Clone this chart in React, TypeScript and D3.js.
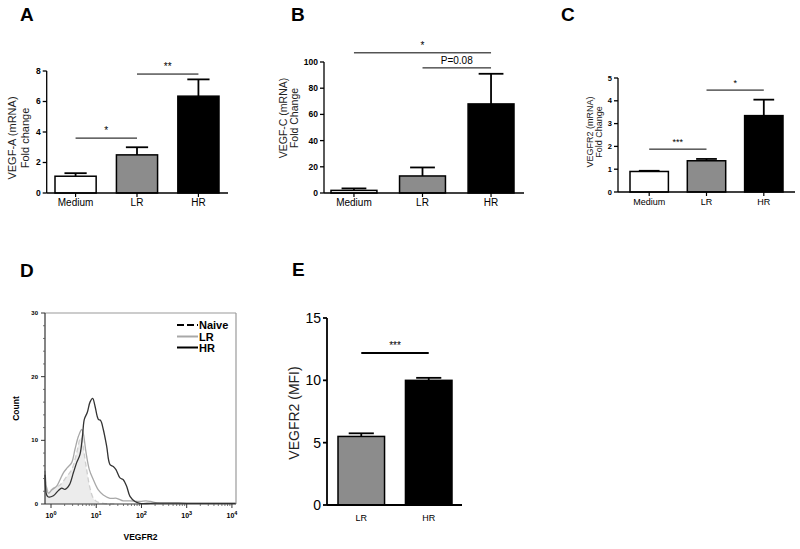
import React from 'react';
import * as d3 from 'd3';

const FONT = '"Liberation Sans", Arial, sans-serif';

// ---- bar panel data ----
const groups3 = ['Medium', 'LR', 'HR'];
const groups2 = ['LR', 'HR'];
const barFills3 = ['#ffffff', '#8c8c8c', '#000000'];
const barFills2 = ['#8c8c8c', '#000000'];

const vegfA = [1.1, 2.5, 6.35];
const vegfAErr = [1.3, 3.0, 7.45];
const vegfC = [2, 13, 68];
const vegfCErr = [3.5, 19.5, 91];
const vegfr2 = [0.9, 1.37, 3.35];
const vegfr2Err = [0.93, 1.45, 4.05];
const mfi = [5.5, 10.0];
const mfiErr = [5.75, 10.2];

const sigA = [
  { a: 'Medium', b: 'LR', y: 3.6, label: '*' },
  { a: 'LR', b: 'HR', y: 7.8, label: '**' },
];
const sigB = [
  { a: 'Medium', b: 'HR', y: 107, label: '*' },
  { a: 'LR', b: 'HR', y: 95.5, label: 'P=0.08' },
];
const sigC = [
  { a: 'Medium', b: 'LR', y: 1.88, label: '***' },
  { a: 'LR', b: 'HR', y: 4.47, label: '*' },
];
const sigE = [{ a: 'LR', b: 'HR', y: 12.2, label: '***' }];

// ---- flow histogram data (log10 intensity, count) ----
const hrLog = [-0.133, -0.096, -0.059, 0.052, 0.162, 0.236, 0.309, 0.405, 0.494, 0.567, 0.641, 0.7, 0.736, 0.803, 0.862, 0.921, 0.972, 1.046, 1.098, 1.156, 1.23, 1.304, 1.377, 1.436, 1.525, 1.598, 1.672, 1.746, 1.856, 1.967, 2.2, 2.6, 3.0, 3.5, 4.09];
const hrCount = [4.6, 1.4, 1.1, 1.3, 2.1, 2.5, 2.3, 3.0, 4.9, 6.5, 7.8, 11.0, 13.3, 14.4, 16.0, 16.6, 15.4, 13.3, 13.1, 11.7, 9.1, 6.2, 5.9, 5.4, 4.1, 3.8, 2.8, 1.2, 0.4, 0.1, 0.1, 0.15, 0.1, 0.1, 0.1];
const lrLog = [-0.133, -0.059, 0.015, 0.125, 0.199, 0.273, 0.361, 0.457, 0.53, 0.604, 0.678, 0.715, 0.774, 0.847, 0.936, 1.046, 1.156, 1.304, 1.451, 1.598, 1.746, 1.967, 2.1, 2.2, 2.35, 2.6, 3.0, 3.5, 4.09];
const lrCount = [5.2, 1.7, 2.2, 2.8, 3.8, 4.9, 5.7, 6.5, 8.6, 10.6, 11.7, 11.0, 8.1, 5.4, 3.8, 2.2, 1.4, 0.9, 0.9, 0.5, 0.5, 0.4, 0.5, 0.4, 0.15, 0.1, 0.1, 0.1, 0.1];
const naiveLog = [-0.133, -0.059, 0.052, 0.199, 0.346, 0.457, 0.567, 0.641, 0.678, 0.715, 0.788, 0.862, 0.936, 1.009, 1.156, 1.4];
const naiveCount = [4.0, 2.0, 2.5, 3.0, 4.3, 5.4, 8.0, 10.2, 10.4, 8.8, 5.4, 2.5, 0.9, 0.4, 0.1, 0];
const countTicks = [0, 10, 20, 30];
const decades = [0, 1, 2, 3, 4];

type Sig = { a: string; b: string; y: number; label: string };

type BarProps = {
  cats: string[];
  values: number[];
  errs: number[];
  fills: string[];
  yMax: number;
  yStep: number;
  axisX: number;
  axisEnd: number;
  y0: number;
  yTop: number;
  barsLeft: number;
  barsRight: number;
  pad: number;
  title: string[];
  titleX: number[];
  titleY: number;
  titleSize: number;
  tickSize: number;
  tickBold: boolean;
  xLabelSize: number;
  xLabelY: number;
  xTicks: boolean;
  sigs: Sig[];
  sigSize: number;
  sigWidth: number;
  axisWidth: number;
  letter: string;
  letterX: number;
  letterY: number;
};

function BarPanel(p: BarProps) {
  const x = d3.scaleBand().domain(p.cats).range([p.barsLeft, p.barsRight]).paddingInner(p.pad).paddingOuter(0);
  const y = d3.scaleLinear().domain([0, p.yMax]).range([p.y0, p.yTop]);
  const ticks = d3.range(0, p.yMax + 1e-9, p.yStep);
  const bw = x.bandwidth();
  const cx = (c: string) => (x(c) as number) + bw / 2;
  return (
    <g fontFamily={FONT}>
      <text x={p.letterX} y={p.letterY} fontSize={19} fontWeight="bold">{p.letter}</text>
      {/* error bars */}
      {p.cats.map((c, i) => (
        <g key={'e' + c} stroke="#000" strokeWidth={1.8}>
          <line x1={cx(c)} x2={cx(c)} y1={y(p.values[i])} y2={y(p.errs[i])} />
          <line x1={cx(c) - bw * 0.27} x2={cx(c) + bw * 0.27} y1={y(p.errs[i])} y2={y(p.errs[i])} />
        </g>
      ))}
      {p.cats.map((c, i) => (
        <rect key={'b' + c} x={x(c)} y={y(p.values[i])} width={bw} height={p.y0 - y(p.values[i])}
          fill={p.fills[i]} stroke="#000" strokeWidth={1.5} />
      ))}
      {/* axes */}
      <line x1={p.axisX} x2={p.axisX} y1={p.y0} y2={p.yTop} stroke="#000" strokeWidth={p.axisWidth} />
      <line x1={p.axisX} x2={p.axisEnd} y1={p.y0} y2={p.y0} stroke="#000" strokeWidth={p.axisWidth} />
      {ticks.map(t => (
        <g key={'t' + t}>
          <line x1={p.axisX - 4} x2={p.axisX} y1={y(t)} y2={y(t)} stroke="#000" strokeWidth={p.axisWidth} />
          <text x={p.axisX - 6} y={y(t)} dy="0.35em" textAnchor="end" fontSize={p.tickSize}
            fontWeight={p.tickBold ? 'bold' : 'normal'}>{t}</text>
        </g>
      ))}
      {p.cats.map(c => (
        <g key={'x' + c}>
          {p.xTicks && <line x1={cx(c)} x2={cx(c)} y1={p.y0} y2={p.y0 + 4} stroke="#000" strokeWidth={1.2} />}
          <text x={cx(c)} y={p.xLabelY} textAnchor="middle" fontSize={p.xLabelSize}>{c}</text>
        </g>
      ))}
      {p.title.map((t, i) => (
        <text key={'ti' + i} transform={`translate(${p.titleX[i]},${p.titleY}) rotate(-90)`} textAnchor="middle"
          fontSize={p.titleSize} fill="#222">{t}</text>
      ))}
      {p.sigs.map((s, i) => (
        <g key={'s' + i}>
          <line x1={cx(s.a)} x2={cx(s.b)} y1={y(s.y)} y2={y(s.y)} stroke="#000" strokeWidth={p.sigWidth} />
          <text x={(cx(s.a) + cx(s.b)) / 2} y={y(s.y) - 4} textAnchor="middle" fontSize={p.sigSize}>{s.label}</text>
        </g>
      ))}
    </g>
  );
}

function FlowPanel() {
  const left = 45, right = 236, top = 313, bottom = 504;
  const x = d3.scaleLog().domain([Math.pow(10, -0.133), Math.pow(10, 4.09)]).range([left, right]);
  const y = d3.scaleLinear().domain([0, 30]).range([bottom, top]);
  const pts = (lg: number[], ct: number[]) => lg.map((l, i) => [x(Math.pow(10, l)), y(ct[i])] as [number, number]);
  const line = d3.line().curve(d3.curveCatmullRom);
  const area = d3.area().x(d => d[0]).y0(bottom).y1(d => d[1]).curve(d3.curveCatmullRom);
  const naive = pts(naiveLog, naiveCount);
  const minor: number[] = [];
  decades.slice(0, 4).forEach(d => { for (let k = 2; k <= 9; k++) minor.push(k * Math.pow(10, d)); });
  const minorY = d3.range(0, 31, 2).filter(v => v % 10 !== 0);
  return (
    <g fontFamily={FONT}>
      <text x={20} y={277} fontSize={19} fontWeight="bold">D</text>
      <path d={area(naive) || ''} fill="#ececec" />
      <path d={line(naive) || ''} fill="none" stroke="#cfcfcf" strokeWidth={1.3} strokeDasharray="5,3" />
      <path d={line(pts(lrLog, lrCount)) || ''} fill="none" stroke="#a8a8a8" strokeWidth={1.3} />
      <path d={line(pts(hrLog, hrCount)) || ''} fill="none" stroke="#333" strokeWidth={1.3} />
      {/* frame */}
      <line x1={left} x2={right} y1={top} y2={top} stroke="#9a9a9a" strokeWidth={1.2} />
      <line x1={right} x2={right} y1={top} y2={bottom} stroke="#9a9a9a" strokeWidth={1.2} />
      <line x1={left} x2={left} y1={top} y2={bottom} stroke="#333" strokeWidth={1.2} />
      <line x1={left} x2={right} y1={bottom} y2={bottom} stroke="#333" strokeWidth={1.2} />
      {countTicks.map(t => (
        <g key={'cy' + t}>
          <line x1={left - 4} x2={left} y1={y(t)} y2={y(t)} stroke="#333" />
          <text x={left - 7} y={y(t)} dy="0.35em" textAnchor="end" fontSize={6} fontWeight="bold">{t}</text>
        </g>
      ))}
      {minorY.map(t => <line key={'my' + t} x1={left - 2} x2={left} y1={y(t)} y2={y(t)} stroke="#555" strokeWidth={0.8} />)}
      {decades.map(d => (
        <g key={'dx' + d}>
          <line x1={x(Math.pow(10, d))} x2={x(Math.pow(10, d))} y1={bottom} y2={bottom + 4} stroke="#333" />
          <text x={x(Math.pow(10, d))} y={bottom + 14} textAnchor="middle" fontSize={7} fontWeight="bold">
            10<tspan dy={-3.5} fontSize={5.5}>{d}</tspan>
          </text>
        </g>
      ))}
      {minor.map(v => <line key={'mx' + v} x1={x(v)} x2={x(v)} y1={bottom} y2={bottom + 2} stroke="#555" strokeWidth={0.8} />)}
      <text transform={`translate(19,${(top + bottom) / 2}) rotate(-90)`} textAnchor="middle" fontSize={8.5} fontWeight="bold">Count</text>
      <text x={(left + right) / 2} y={540} textAnchor="middle" fontSize={8.5} fontWeight="bold">VEGFR2</text>
      {/* legend */}
      <line x1={177} x2={198} y1={325} y2={325} stroke="#000" strokeWidth={2} strokeDasharray="7,3" />
      <line x1={177} x2={198} y1={336.5} y2={336.5} stroke="#a8a8a8" strokeWidth={2} />
      <line x1={177} x2={198} y1={347.5} y2={347.5} stroke="#000" strokeWidth={2} />
      <text x={199} y={329} fontSize={11} fontWeight="bold">Naive</text>
      <text x={199} y={340.5} fontSize={11} fontWeight="bold">LR</text>
      <text x={199} y={351.5} fontSize={11} fontWeight="bold">HR</text>
    </g>
  );
}

export default function App() {
  return (
    <div style={{ position: 'absolute', left: 0, top: 0 }}>
      <svg width={800} height={549} style={{ display: 'block', background: '#fff' }}>
        <BarPanel cats={groups3} values={vegfA} errs={vegfAErr} fills={barFills3} yMax={8} yStep={2}
          axisX={46.7} axisEnd={228} y0={193} yTop={71} barsLeft={55} barsRight={219} pad={0.33}
          title={['VEGF-A (mRNA)', 'Fold change']} titleX={[16, 29]} titleY={138} titleSize={11}
          tickSize={8.5} tickBold xLabelSize={10} xLabelY={206} xTicks sigs={sigA} sigSize={10} sigWidth={1}
          axisWidth={1.3} letter="A" letterX={20} letterY={21} />
        <BarPanel cats={groups3} values={vegfC} errs={vegfCErr} fills={barFills3} yMax={100} yStep={20}
          axisX={324} axisEnd={524} y0={193} yTop={62} barsLeft={331} barsRight={514} pad={0.33}
          title={['VEGF-C (mRNA)', 'Fold Change']} titleX={[287, 298]} titleY={118} titleSize={10.5}
          tickSize={8.5} tickBold xLabelSize={10} xLabelY={206} xTicks sigs={sigB} sigSize={10} sigWidth={1}
          axisWidth={1.3} letter="B" letterX={291} letterY={21} />
        <BarPanel cats={groups3} values={vegfr2} errs={vegfr2Err} fills={barFills3} yMax={5} yStep={1}
          axisX={618} axisEnd={795} y0={192} yTop={78} barsLeft={630} barsRight={783} pad={0.33}
          title={['VEGFR2 (mRNA)', 'Fold Change']} titleX={[593, 602]} titleY={132} titleSize={9}
          tickSize={7.5} tickBold xLabelSize={9} xLabelY={205} xTicks sigs={sigC} sigSize={9} sigWidth={1}
          axisWidth={1.3} letter="C" letterX={561} letterY={21} />
        <BarPanel cats={groups2} values={mfi} errs={mfiErr} fills={barFills2} yMax={15} yStep={5}
          axisX={327} axisEnd={462} y0={505} yTop={318} barsLeft={338} barsRight={452} pad={0.31}
          title={['VEGFR2 (MFI)']} titleX={[299]} titleY={413} titleSize={14}
          tickSize={14} tickBold={false} xLabelSize={9} xLabelY={521} xTicks={false} sigs={sigE} sigSize={10} sigWidth={2}
          axisWidth={1.8} letter="E" letterX={292} letterY={276} />
        <FlowPanel />
      </svg>
    </div>
  );
}
